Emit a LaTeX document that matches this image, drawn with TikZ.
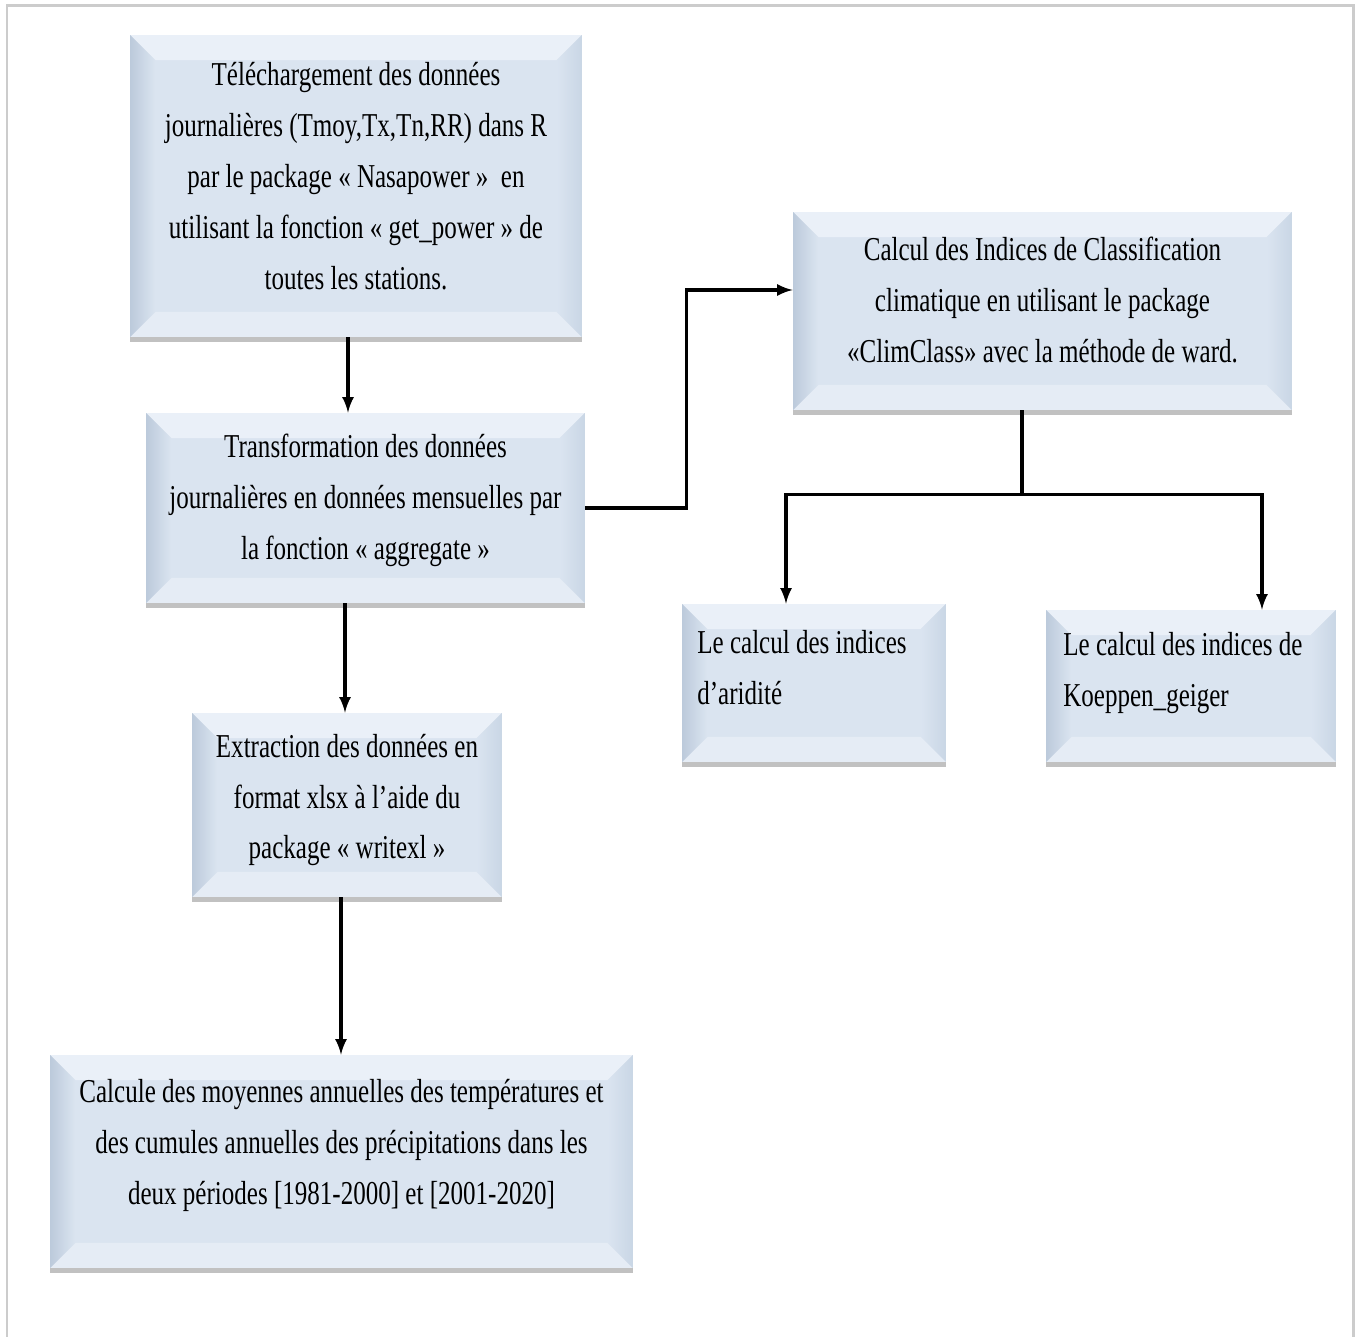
\documentclass[tikz,border=0pt]{standalone}
\usepackage{fontspec}
\setmainfont[FakeStretch=0.75]{Liberation Serif}
\usetikzlibrary{shadows}

\definecolor{bevmid}{HTML}{DAE4F0}
\definecolor{bevtop}{HTML}{EAF0F8}
\definecolor{bevbot}{HTML}{E5ECF5}
\definecolor{bevleft}{HTML}{BCCADB}
\definecolor{bevright}{HTML}{C9D6E5}

\tikzset{
  etape/.style={rectangle, fill=bevmid, inner sep=0pt,
    drop shadow={shadow xshift=0pt, shadow yshift=-0.1cm, opacity=.35, fill=black!70},
    path picture={
      \path (path picture bounding box.north west) coordinate (pnw)
            (path picture bounding box.north east) coordinate (pne)
            (path picture bounding box.south west) coordinate (psw)
            (path picture bounding box.south east) coordinate (pse);
      \fill[bevtop] (pnw) -- (pne) -- ([shift={(-0.5cm,-0.5cm)}]pne) -- ([shift={(0.5cm,-0.5cm)}]pnw) -- cycle;
      \fill[bevbot] (psw) -- (pse) -- ([shift={(-0.5cm,0.5cm)}]pse) -- ([shift={(0.5cm,0.5cm)}]psw) -- cycle;
      \shade[left color=bevleft, right color=bevmid] (pnw) -- ([shift={(0.5cm,-0.5cm)}]pnw) -- ([shift={(0.5cm,0.5cm)}]psw) -- (psw) -- cycle;
      \shade[left color=bevmid, right color=bevright] (pne) -- ([shift={(-0.5cm,-0.5cm)}]pne) -- ([shift={(-0.5cm,0.5cm)}]pse) -- (pse) -- cycle;
    }},
  txt/.style={font=\fontsize{19}{29}\selectfont, align=center, inner sep=0pt},
  arr/.style={->, line width=2pt}
}

\begin{document}
\begin{tikzpicture}[>=latex, x=0.02cm, y=-0.02cm]
\useasboundingbox (0,0) rectangle (1356,1337);
\draw[gray!40, line width=0.06cm] (7,1337) -- (7,6) -- (1353,6) -- (1353,1337);

% les etapes
\node(telech)[etape, minimum width=9.04cm, minimum height=6.04cm] at (356,186) {};
\node(transf)[etape, minimum width=8.78cm, minimum height=3.8cm] at (365.5,508) {};
\node(extract)[etape, minimum width=6.2cm, minimum height=3.68cm] at (347,805) {};
\node(calcmoy)[etape, minimum width=11.66cm, minimum height=4.26cm] at (341.5,1161.5) {};
\node(indices)[etape, minimum width=9.98cm, minimum height=3.96cm] at (1042.5,311) {};
\node(aridite)[etape, minimum width=5.28cm, minimum height=3.16cm] at (814,683) {};
\node(koeppen)[etape, minimum width=5.8cm, minimum height=3.04cm] at (1191,686) {};

% les textes
\node(telechT)[txt] at (356,176) {Téléchargement des données\\journalières (Tmoy,Tx,Tn,RR) dans R\\par le package « Nasapower »~ en\\utilisant la fonction « get\_power » de\\toutes les stations.};
\node(transfT)[txt] at (365.5,500) {Transformation des données\\journalières en données mensuelles par\\la fonction « aggregate »};
\node(extractT)[txt] at (347,800) {Extraction des données en\\format xlsx à l’aide du\\package « writexl »};
\node(calcmoyT)[txt] at (341.5,1145) {Calcule des moyennes annuelles des températures et\\des cumules annuelles des précipitations dans les\\deux périodes [1981-2000] et [2001-2020]};
\node(indicesT)[txt] at (1042.5,300) {Calcul des Indices de Classification\\climatique en utilisant le package\\«ClimClass» avec la méthode de ward.};
\node(ariditeT)[txt, align=left, anchor=west] at (697,668) {Le calcul des indices\\d’aridité};
\node(koeppenT)[txt, align=left, anchor=west] at (1063,673) {Le calcul des indices de\\Koeppen\_geiger};

% les fleches
\draw[arr] ([xshift=-0.16cm]telech.south) -- ([xshift=-0.16cm]telech.south |- transf.north);
\draw[arr] ([xshift=-0.41cm]transf.south) -- ([xshift=-0.41cm]transf.south |- extract.north);
\draw[arr] ([xshift=-0.12cm]extract.south) -- ([xshift=-0.12cm]extract.south |- calcmoy.north);
\draw[arr] (transf.east) -- ++(101,0) |- ([yshift=0.42cm]indices.west);
\draw[line width=2pt] ([xshift=-0.41cm]indices.south) -- ++(0,84) coordinate (split);
\draw[arr] (split) -| ([xshift=-0.56cm]aridite.north);
\draw[arr] (split) -| ([xshift=1.42cm]koeppen.north);
\end{tikzpicture}
\end{document}
